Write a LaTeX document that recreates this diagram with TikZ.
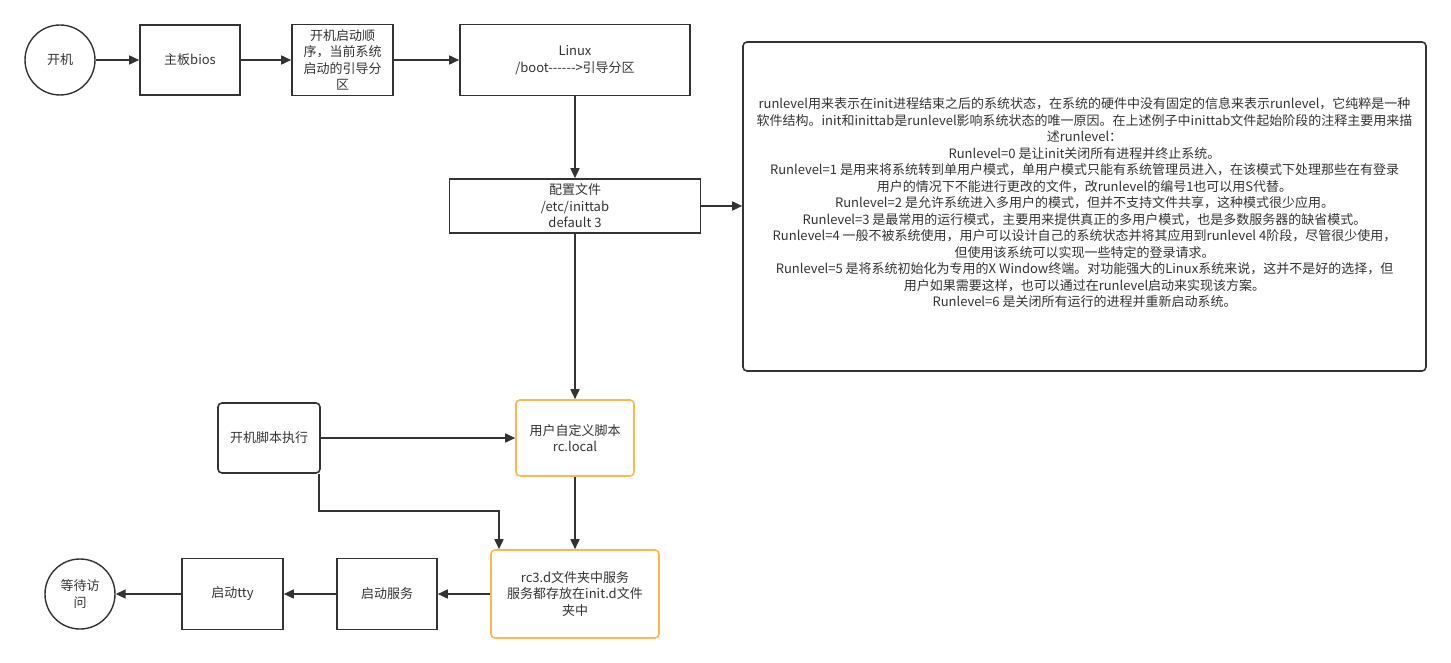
\documentclass[tikz,border=0pt]{standalone}
\usepackage{fontspec}
\setmainfont{Noto Sans CJK SC}
\usetikzlibrary{arrows.meta}
\definecolor{inkgray}{HTML}{333333}
\definecolor{boxorange}{HTML}{FFB74D}
\begin{document}
\begin{tikzpicture}[x=1pt, y=-1pt,
  every node/.style={font=\fontsize{13}{16.5}\selectfont, text=inkgray, align=center},
  box/.style={draw=inkgray, line width=1.6pt},
  userbox/.style={draw=boxorange, line width=1.6pt, rounded corners=4pt},
  terminal/.style={circle, draw=inkgray, line width=1.4pt, minimum size=70pt, inner sep=1pt},
  flow/.style={draw=inkgray, line width=1.6pt, -{Triangle[length=10pt,width=9pt]}}]
\useasboundingbox (0,0) rectangle (1451,663);
% --- top row: power on to boot partition ---
\node[terminal] (kaiji) at (60,60) {开机};
\node[box, minimum width=100pt, minimum height=70pt] (bios) at (190,60) {主板bios};
\node[box, minimum width=101pt, minimum height=71pt] (order) at (342.5,60) {开机启动顺\\序，当前系统\\启动的引导分\\区};
\node[box, minimum width=230pt, minimum height=71pt] (linux) at (575,60) {Linux\\/boot-{}-{}-{}-{}-{}-{}>引导分区};
% --- config file and runlevel notes ---
\node[box, minimum width=251pt, minimum height=54pt] (config) at (575,206) {配置文件\\/etc/inittab\\default 3};
\node[box, rounded corners=4pt, minimum width=683pt, minimum height=329pt] (runlevel) at (1084.5,206.5) {%
runlevel用来表示在init进程结束之后的系统状态，在系统的硬件中没有固定的信息来表示runlevel，它纯粹是一种\\
软件结构。init和inittab是runlevel影响系统状态的唯一原因。在上述例子中inittab文件起始阶段的注释主要用来描\\
述runlevel：\\
Runlevel=0 是让init关闭所有进程并终止系统。\\
Runlevel=1 是用来将系统转到单用户模式，单用户模式只能有系统管理员进入，在该模式下处理那些在有登录\\
用户的情况下不能进行更改的文件，改runlevel的编号1也可以用S代替。\\
Runlevel=2 是允许系统进入多用户的模式，但并不支持文件共享，这种模式很少应用。\\
Runlevel=3 是最常用的运行模式，主要用来提供真正的多用户模式，也是多数服务器的缺省模式。\\
Runlevel=4 一般不被系统使用，用户可以设计自己的系统状态并将其应用到runlevel 4阶段，尽管很少使用，\\
但使用该系统可以实现一些特定的登录请求。\\
Runlevel=5 是将系统初始化为专用的X Window终端。对功能强大的Linux系统来说，这并不是好的选择，但\\
用户如果需要这样，也可以通过在runlevel启动来实现该方案。\\
Runlevel=6 是关闭所有运行的进程并重新启动系统。\\[-8pt]};
% --- startup scripts ---
\node[box, rounded corners=4pt, minimum width=102pt, minimum height=70pt] (bootexec) at (269,438) {开机脚本执行};
\node[userbox, minimum width=118pt, minimum height=76pt] (rclocal) at (575,438) {用户自定义脚本\\rc.local};
\node[userbox, minimum width=168pt, minimum height=88pt] (rc3) at (575,594) {rc3.d文件夹中服务\\服务都存放在init.d文件\\夹中};
% --- bottom row: services to waiting ---
\node[box, minimum width=100pt, minimum height=71pt] (service) at (387,594) {启动服务};
\node[box, minimum width=101pt, minimum height=71pt] (tty) at (232.5,594) {启动tty};
\node[terminal] (wait) at (80,594) {等待访\\问};
% Connectors
\draw[flow] (kaiji) -- (bios);
\draw[flow] (bios) -- (order);
\draw[flow] (order) -- (linux);
\draw[flow] (linux) -- (config);
\draw[flow] (config.east) -- (config.east -| runlevel.west);
\draw[flow] (config) -- (rclocal);
\draw[flow] (bootexec) -- (rclocal);
\draw[flow] ([xshift=-2pt]bootexec.south east) -- ++(0,37) -| ([xshift=-76pt]rc3.north);
\draw[flow] (rclocal) -- (rc3);
\draw[flow] (rc3) -- (service);
\draw[flow] (service) -- (tty);
\draw[flow] (tty) -- (wait);
\end{tikzpicture}
\end{document}
